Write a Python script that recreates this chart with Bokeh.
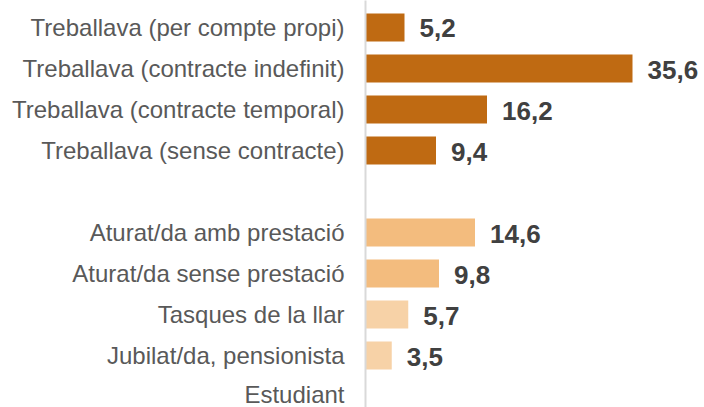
from bokeh.plotting import figure
from bokeh.models import ColumnDataSource, Range1d, FixedTicker
from bokeh.core.properties import value
from bokeh.embed import file_html
from bokeh.resources import INLINE

categories = [
    "Treballava (per compte propi)",
    "Treballava (contracte indefinit)",
    "Treballava (contracte temporal)",
    "Treballava (sense contracte)",
    "Aturat/da amb prestació",
    "Aturat/da sense prestació",
    "Tasques de la llar",
    "Jubilat/da, pensionista",
    "Estudiant",
]
values = [5.2, 35.6, 16.2, 9.4, 14.6, 9.8, 5.7, 3.5, None]
groups = [0, 0, 0, 0, 1, 1, 2, 2, 2]
value_labels = ["5,2", "35,6", "16,2", "9,4", "14,6", "9,8", "5,7", "3,5", ""]

group_colors = ["#BF6A12", "#F3BC7E", "#F7D2A7"]

# row positions: a blank slot between the two groups
positions = [i + (1 if g > 0 else 0) for i, g in enumerate(groups)]

rows = [k for k, v in enumerate(values) if v is not None]
src = ColumnDataSource(dict(
    y=[positions[k] for k in rows],
    v=[values[k] for k in rows],
    c=[group_colors[groups[k]] for k in rows],
    t=[value_labels[k] for k in rows],
))

p = figure(width=704, height=407, output_backend="svg", toolbar_location=None,
           x_range=Range1d(0, 45.2), y_range=Range1d(9.268, -0.6585),
           min_border_left=365, min_border_right=0, min_border_top=0, min_border_bottom=0)
p.outline_line_color = None
p.background_fill_color = "white"
p.border_fill_color = "white"
p.grid.visible = False
p.xaxis.visible = False

p.hbar(y="y", left=0, right="v", height=0.68, color="c", line_color=None, source=src)
p.text(x="v", y="y", text="t", source=src, x_offset=15, y_offset=1,
       text_font=value("Liberation Sans"), text_font_style="bold",
       text_font_size="26px", text_color="#404040",
       text_align="left", text_baseline="middle")

ya = p.yaxis[0]
ya.ticker = FixedTicker(ticks=positions)
ya.major_label_overrides = {pos: lab for pos, lab in zip(positions, categories)}
ya.major_tick_line_color = None
ya.minor_tick_line_color = None
ya.major_tick_out = 0
ya.major_tick_in = 0
ya.axis_line_color = "#D9D9D9"
ya.axis_line_width = 2
ya.major_label_standoff = 21
ya.major_label_text_font = "Liberation Sans"
ya.major_label_text_font_size = "24px"
ya.major_label_text_color = "#595959"

open("out.html", "w").write(file_html(p, INLINE))
